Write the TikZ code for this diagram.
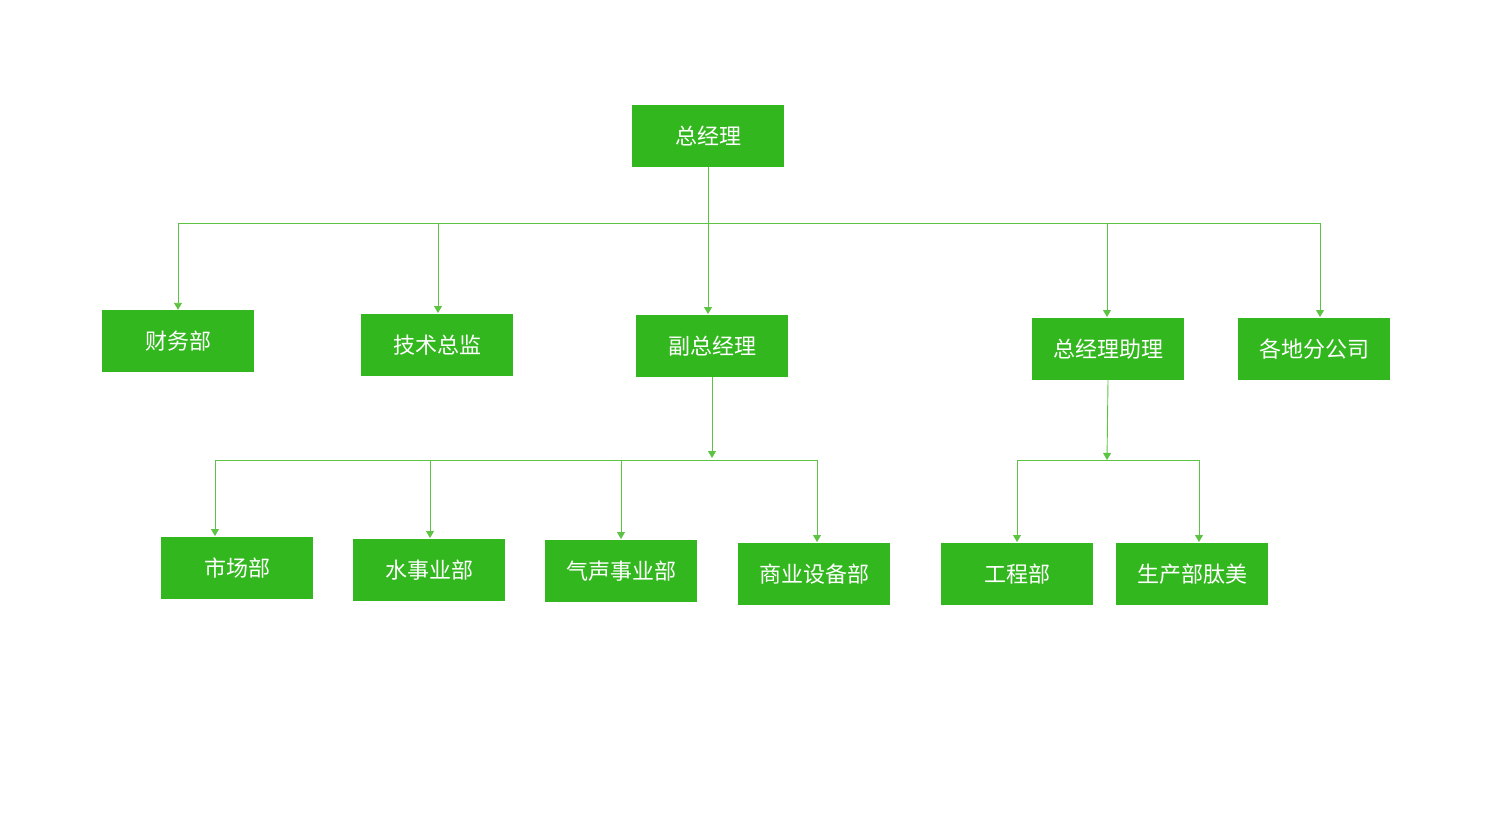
\documentclass[tikz,border=0pt]{standalone}
\usepackage{fontspec}
\newfontfamily\cjk{Noto Sans CJK SC}
\usetikzlibrary{arrows.meta}
\definecolor{boxg}{HTML}{33B71F}
\definecolor{lineg}{HTML}{5CC442}
\begin{document}
\begin{tikzpicture}[x=1pt,y=-1pt,
  box/.style={fill=boxg,draw=none,minimum width=152pt,minimum height=62pt,inner sep=0pt,text=white,font=\cjk\fontsize{22}{24}\selectfont},
  conn/.style={draw=lineg,line width=0.9pt},
  arr/.style={conn,-{Triangle[width=8pt,length=7pt]}}]
\useasboundingbox (0,0) rectangle (1496,826);
\node[box] (gm) at (708,136) {总经理};
\node[box] (cw) at (178,341) {财务部};
\node[box] (js) at (437,345) {技术总监};
\node[box] (fz) at (712,346) {副总经理};
\node[box] (zl) at (1108,349) {总经理助理};
\node[box] (gd) at (1314,349) {各地分公司};
\node[box] (sc) at (237,568) {市场部};
\node[box] (ss) at (429,570) {水事业部};
\node[box] (qs) at (621,571) {气声事业部};
\node[box] (sy) at (814,574) {商业设备部};
\node[box] (gc) at (1017,574) {工程部};
\node[box] (scb) at (1192,574) {生产部肽美};
\coordinate (b1) at (708,223);
\draw[conn] (gm.south) -- (b1);
\draw[conn] (178,223) -- (1320,223);
\draw[arr] (178,223) -- (cw.north);
\draw[arr] (438,223) -- (438,313);
\draw[arr] (708,223) -- (708,314);
\draw[arr] (1107,223) -- (1107,317);
\draw[arr] (1320,223) -- (1320,317);
\draw[arr] (fz.south) -- (712,458);
\draw[conn] (215,460) -- (817,460);
\draw[arr] (215,460) -- (215,536);
\draw[arr] (430,460) -- (430,538);
\draw[arr] (621,460) -- (621,539);
\draw[arr] (817,460) -- (817,542);
\draw[arr] (zl.south) -- (1107,460);
\draw[conn] (1017,460) -- (1199,460);
\draw[arr] (1017,460) -- (1017,542);
\draw[arr] (1199,460) -- (1199,542);
\end{tikzpicture}
\end{document}
